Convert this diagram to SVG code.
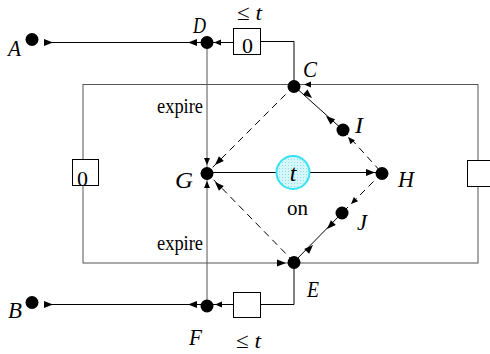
<svg xmlns="http://www.w3.org/2000/svg" xmlns:xlink="http://www.w3.org/1999/xlink" width="490" height="354" viewBox="0 0 490 354">
<style>
.ln{fill:none;stroke:#000;stroke-width:1}
.gl{fill:none;stroke:#555;stroke-width:1}
.ds{fill:none;stroke:#000;stroke-width:1;stroke-dasharray:7,5}
.bx{fill:#fff;stroke:#000;stroke-width:1}
.dot{fill:#000}
.ah{fill:#000}
.lb{font-family:"Liberation Serif","Times New Roman",serif;font-style:italic;font-size:24px;fill:#000}
.tx{font-family:"Liberation Serif","Times New Roman",serif;font-size:22px;fill:#000}
</style>
<defs>
<path id="a" class="ah" d="M0,0 L-9,-3.5 L-9,3.5 Z"/>
<path id="s" class="ah" d="M0,0 L-7,-3 L-7,3 Z"/>
<pattern id="dots" width="3" height="3" patternUnits="userSpaceOnUse">
<rect width="3" height="3" fill="#d6f7fa"/>
<rect width="1" height="1" fill="#8fdbe8"/>
</pattern>
</defs>

<g id="connectors">
<line class="ln" x1="44" y1="42.5" x2="201" y2="42.5"/>
<line class="ln" x1="207" y1="42.5" x2="233" y2="42.5"/>
<polyline class="ln" points="261,41.5 294,41.5 294,86"/>
<rect class="gl" x="83" y="84.5" width="395" height="178.5"/>
<line class="gl" x1="207" y1="42" x2="207" y2="306"/>
<polyline class="ln" points="294,263 294,304.5 261,304.5"/>
<line class="ln" x1="207" y1="304.5" x2="233" y2="304.5"/>
<line class="ln" x1="44" y1="304.5" x2="201" y2="304.5"/>
<line class="ln" x1="294" y1="86" x2="343" y2="130"/>
<line class="ds" x1="343" y1="130" x2="382" y2="173"/>
<line class="ds" x1="382" y1="173" x2="342" y2="213"/>
<line class="ln" x1="342" y1="213" x2="294" y2="262"/>
<line class="ds" x1="294" y1="86" x2="207" y2="173"/>
<line class="ds" x1="294" y1="262" x2="207" y2="173"/>
<line class="ln" x1="207" y1="172.5" x2="276" y2="172.5"/>
<line class="ln" x1="310" y1="172.5" x2="376" y2="172.5"/>
<use xlink:href="#a" transform="translate(53,42.5)"/>
<use xlink:href="#a" transform="translate(188,42.5) rotate(180)"/>
<use xlink:href="#s" transform="translate(214,42.5) rotate(180)"/>
<use xlink:href="#s" transform="translate(304,84.5) rotate(180)"/>
<use xlink:href="#a" transform="translate(312,98) rotate(41)"/>
<use xlink:href="#a" transform="translate(326,116) rotate(221)"/>
<use xlink:href="#s" transform="translate(348,137) rotate(228)"/>
<use xlink:href="#a" transform="translate(375,172.5)"/>
<use xlink:href="#s" transform="translate(351,204) rotate(135)"/>
<use xlink:href="#a" transform="translate(327,229) rotate(135)"/>
<use xlink:href="#a" transform="translate(313,245) rotate(-45)"/>
<use xlink:href="#a" transform="translate(286,263)"/>
<use xlink:href="#a" transform="translate(215,165) rotate(135)"/>
<use xlink:href="#a" transform="translate(215,182) rotate(225)"/>
<use xlink:href="#s" transform="translate(207,165) rotate(90)"/>
<use xlink:href="#s" transform="translate(207,181) rotate(270)"/>
<use xlink:href="#a" transform="translate(53,304.5)"/>
<use xlink:href="#a" transform="translate(188,304.5) rotate(180)"/>
<use xlink:href="#s" transform="translate(215,304.5) rotate(180)"/>
</g>

<g id="boxTop">
<rect class="bx" x="233.5" y="28.5" width="27" height="26"/>
<text class="tx" x="242" y="53" font-size="25" textLength="11" lengthAdjust="spacingAndGlyphs">0</text>
<text class="tx" x="237" y="20" font-size="25" textLength="25" lengthAdjust="spacingAndGlyphs">≤ <tspan font-style="italic">t</tspan></text>
</g>
<g id="boxLeft">
<rect class="bx" x="72.5" y="159.5" width="26" height="26"/>
<text class="tx" x="77" y="186" font-size="25" textLength="11" lengthAdjust="spacingAndGlyphs">0</text>
</g>
<g id="boxRight">
<rect class="bx" x="467.5" y="160.5" width="30" height="26"/>
</g>
<g id="boxBottom">
<rect class="bx" x="233.5" y="292.5" width="27" height="25"/>
<text class="tx" x="236" y="348" font-size="25" textLength="25" lengthAdjust="spacingAndGlyphs">≤ <tspan font-style="italic">t</tspan></text>
</g>

<g id="timer">
<circle cx="293" cy="172.5" r="16.5" fill="url(#dots)" stroke="#33e3f5" stroke-width="2"/>
<text class="lb" x="293" y="181" text-anchor="middle" fill="#333">t</text>
<text class="tx" x="287" y="215" font-size="28" textLength="21" lengthAdjust="spacingAndGlyphs">on</text>
</g>

<g id="A"><circle class="dot" cx="32" cy="39.5" r="6.5"/><text class="lb" x="8" y="56" textLength="13" lengthAdjust="spacingAndGlyphs">A</text></g>
<g id="B"><circle class="dot" cx="32" cy="302.5" r="6.5"/><text class="lb" x="8" y="318" textLength="14" lengthAdjust="spacingAndGlyphs">B</text></g>
<g id="D"><circle class="dot" cx="207" cy="42.5" r="6.5"/><text class="lb" x="193" y="33" textLength="13" lengthAdjust="spacingAndGlyphs">D</text></g>
<g id="C"><circle class="dot" cx="294" cy="86.5" r="6.5"/><text class="lb" x="303" y="77" textLength="14" lengthAdjust="spacingAndGlyphs">C</text></g>
<g id="I"><circle class="dot" cx="343" cy="130" r="6.5"/><text class="lb" x="355" y="133" textLength="8" lengthAdjust="spacingAndGlyphs">I</text></g>
<g id="H"><circle class="dot" cx="382" cy="173.5" r="6.5"/><text class="lb" x="398" y="187" textLength="16" lengthAdjust="spacingAndGlyphs">H</text></g>
<g id="J"><circle class="dot" cx="342" cy="213" r="6.5"/><text class="lb" x="357" y="230" textLength="10" lengthAdjust="spacingAndGlyphs">J</text></g>
<g id="E"><circle class="dot" cx="294" cy="262.5" r="6.5"/><text class="lb" x="307" y="297" textLength="12" lengthAdjust="spacingAndGlyphs">E</text></g>
<g id="G"><circle class="dot" cx="207" cy="173.5" r="6.5"/><text class="lb" x="175" y="188" textLength="18" lengthAdjust="spacingAndGlyphs">G</text></g>
<g id="F"><circle class="dot" cx="207" cy="306" r="6.5"/><text class="lb" x="189" y="345" textLength="13" lengthAdjust="spacingAndGlyphs">F</text></g>

<g id="labels">
<text class="tx" x="157" y="113" font-size="23" textLength="46" lengthAdjust="spacingAndGlyphs">expire</text>
<text class="tx" x="157" y="250" font-size="23" textLength="46" lengthAdjust="spacingAndGlyphs">expire</text>
</g>
</svg>
